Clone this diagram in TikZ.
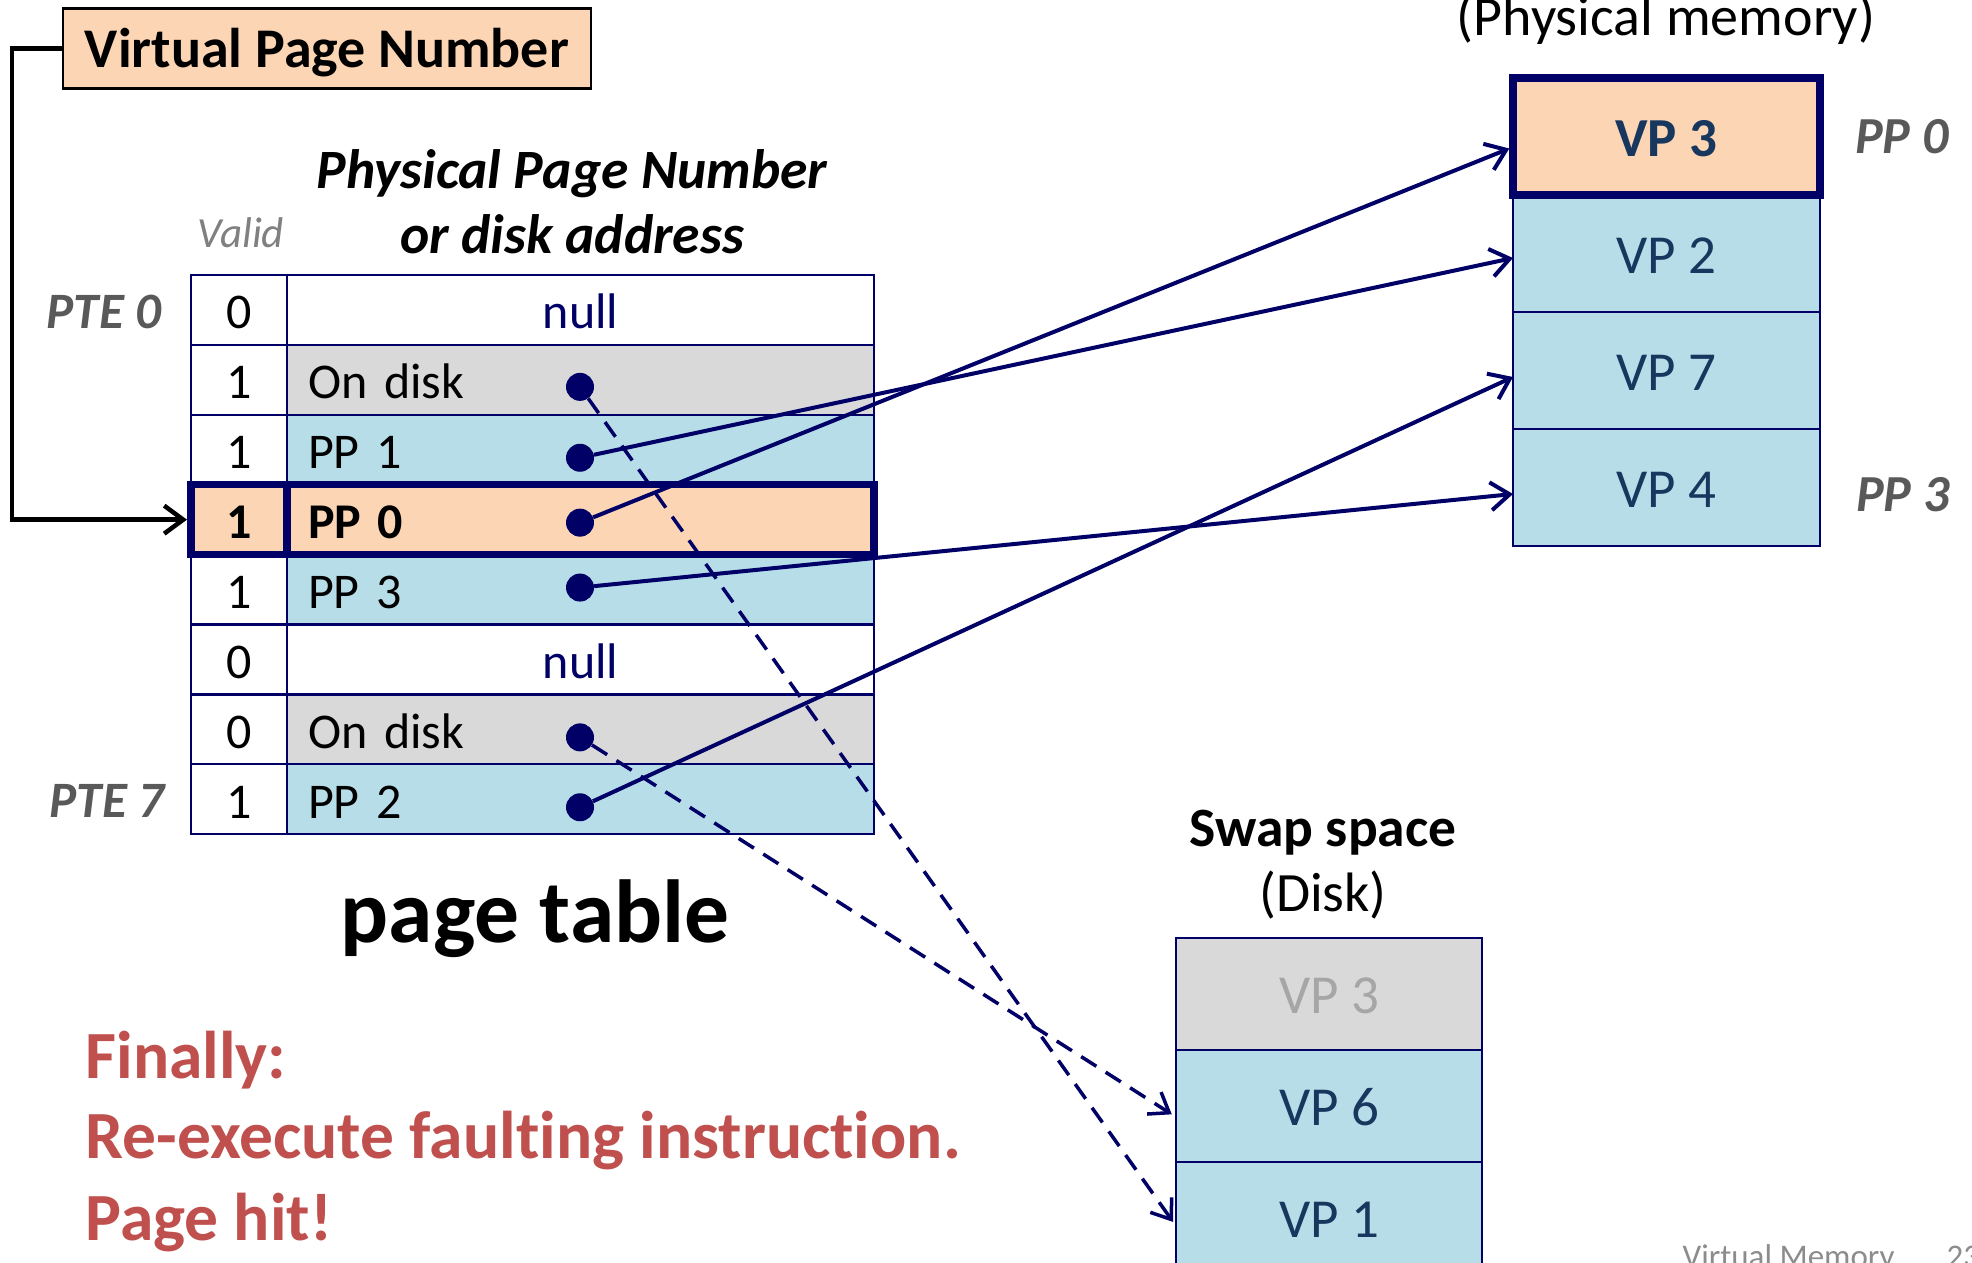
\documentclass[tikz,border=0pt]{standalone}
\usepackage{fontspec}
\setmainfont{Carlito}[Ligatures=NoCommon]
\usetikzlibrary{arrows.meta}

\definecolor{navy}{RGB}{0,0,102}
\definecolor{cellblue}{RGB}{183,221,232}
\definecolor{cellgray}{RGB}{217,217,217}
\definecolor{peach}{RGB}{252,213,181}
\definecolor{vptext}{RGB}{23,55,94}
\definecolor{labelgray}{RGB}{89,89,89}
\definecolor{validgray}{RGB}{128,128,128}
\definecolor{alertred}{RGB}{192,80,77}
\definecolor{footgray}{RGB}{140,140,140}
\definecolor{fadedtext}{RGB}{166,166,166}

\tikzset{
  tbl/.style={draw=navy, line width=2.2pt, inner sep=0pt, outer sep=0pt},
  validcell/.style={tbl, fill=white, minimum width=96pt, minimum height=69.9pt,
    text height=38pt, text depth=0pt, font=\fontsize{50}{60}\selectfont},
  entrycell/.style={tbl, minimum height=69.9pt, text width=545pt, inner xsep=21pt,
    text height=38pt, text depth=0pt, font=\fontsize{50}{60}\selectfont},
  pmcell/.style={tbl, fill=cellblue, minimum width=307pt, minimum height=117pt,
    text height=40pt, text depth=0pt, text=vptext, font=\fontsize{55}{66}\selectfont},
  swcell/.style={tbl, fill=cellblue, minimum width=306pt, minimum height=112pt,
    text height=38pt, text depth=0pt, text=vptext, font=\fontsize{55}{66}\selectfont},
  highlight/.style={draw=navy, line width=7.5pt},
  dot/.style={circle, fill=navy, inner sep=0pt, minimum size=28pt},
  link/.style={draw=navy, line width=4pt, -{Straight Barb[length=19pt,width=28pt]}},
  disklink/.style={draw=navy, line width=3.5pt, dash pattern=on 18pt off 11pt,
    -{Straight Barb[length=18pt,width=26pt]}},
  sidelabel/.style={anchor=base, text=labelgray, font=\bfseries\itshape\fontsize{52}{62}\selectfont},
  heading/.style={anchor=base, font=\bfseries\fontsize{55.5}{67}\selectfont},
  note/.style={anchor=base west, text=alertred, font=\bfseries\fontsize{67.5}{80}\selectfont},
  footer/.style={anchor=base west, text=footgray, font=\fontsize{33}{40}\selectfont}
}

\begin{document}
\begin{tikzpicture}[x=1pt, y=-1pt]
\useasboundingbox[fill=white] (0,0) rectangle (1972,1262);

% virtual page number register
\node[draw=black, line width=2.5pt, fill=peach, minimum width=528pt, minimum height=80pt,
      text height=37pt, text depth=0pt, inner sep=0pt,
      font=\bfseries\fontsize{56}{67}\selectfont] (vpn) at (327,48.5) {Virtual Page Number};

% column headings
\node[anchor=base, font=\bfseries\itshape\fontsize{55.5}{67}\selectfont] (ppnA) at (572,188) {Physical Page Number};
\node[anchor=base, font=\bfseries\itshape\fontsize{55.5}{67}\selectfont] (ppnB) at (572,253) {or disk address};
\node[anchor=base, text=validgray, font=\itshape\fontsize{43}{52}\selectfont] (valid) at (241,247) {Valid};
\node[sidelabel, font=\bfseries\itshape\fontsize{51}{61}\selectfont] (pte0) at (104,328) {PTE 0};
\node[sidelabel, font=\bfseries\itshape\fontsize{51}{61}\selectfont] (pte7) at (107,817) {PTE 7};

% page table rows
\foreach \i/\v/\fc/\tc/\txt/\al in {
    1/0/white/navy/null/center,
    2/1/cellgray/black/On disk/left,
    3/1/cellblue/black/PP 1/left,
    5/1/cellblue/black/PP 3/left,
    6/0/white/navy/null/center,
    7/0/cellgray/black/On disk/left,
    8/1/cellblue/black/PP 2/left} {
  \node[validcell] (v\i) at (239, {275+69.9*(\i-0.5)}) {\v};
  \node[entrycell, fill=\fc, text=\tc, align=\al] (e\i) at (580.5, {275+69.9*(\i-0.5)}) {\txt};
}
% the selected entry
\node[validcell, fill=peach, font=\bfseries\fontsize{50}{60}\selectfont] (v4) at (239, {275+69.9*3.5}) {1};
\node[entrycell, fill=peach, align=left, font=\bfseries\fontsize{50}{60}\selectfont] (e4) at (580.5, {275+69.9*3.5}) {PP 0};
\draw[highlight] (v4.north west) rectangle (e4.south east);
\draw[highlight] (v4.north east) -- (v4.south east);

\node[anchor=base, font=\bfseries\fontsize{89.5}{100}\selectfont] (ptcap) at (535,942) {page table};

% physical memory (DRAM)
\node[anchor=base, font=\fontsize{56}{67}\selectfont] (pmcap) at (1666,35) {(Physical memory)};
\node[pmcell, fill=peach, font=\bfseries\fontsize{55}{66}\selectfont] (vp3) at (1666.5,136.5) {VP 3};
\node[pmcell] (vp2) at (1666.5,253.5) {VP 2};
\node[pmcell] (vp7) at (1666.5,370.5) {VP 7};
\node[pmcell] (vp4) at (1666.5,487.5) {VP 4};
\draw[highlight] (vp3.north west) rectangle (vp3.south east);
\node[sidelabel] (pp0) at (1902,153) {PP 0};
\node[sidelabel] (pp3) at (1903,511) {PP 3};

% swap space (disk)
\node[heading] (swcap) at (1323,846) {Swap space};
\node[anchor=base, font=\fontsize{55.5}{67}\selectfont] (diskcap) at (1323,911) {(Disk)};
\node[swcell, fill=cellgray, text=fadedtext] (sw3) at (1329,994) {VP 3};
\node[swcell] (sw6) at (1329,1106) {VP 6};
\node[swcell] (sw1) at (1329,1218) {VP 1};

% index into the page table
\draw[line width=4.5pt, -{Straight Barb[length=19pt,width=28pt]}, shorten >=4pt]
  (vpn.west) -- ++(-50,0) |- (v4.west);

% pointer dots
\foreach \i/\dy in {2/7,3/8,4/3,5/-2,7/8,8/8}
  \node[dot] (d\i) at (580, {275+69.9*(\i-0.5)+\dy}) {};

% resident pages
\draw[link] (d3) -- ([yshift=-4.5pt]vp2.west);
\draw[link, shorten >=4pt] (d4) -- ([yshift=-10.5pt]vp3.west);
\draw[link] (d5) -- ([yshift=-6.5pt]vp4.west);
\draw[link] (d8) -- ([yshift=-6.5pt]vp7.west);

% pages on disk
\draw[disklink, shorten >=5pt] (d2) -- ([yshift=-8pt]sw1.west);
\draw[disklink, shorten >=5pt] (d7) -- ([yshift=-11pt]sw6.west);

% outcome
\node[note] (n1) at (82,1078) {Finally:};
\node[note] (n2) at (82,1158) {Re-execute faulting instruction.};
\node[note] (n3) at (82,1240) {Page hit!};

% slide footer
\node[footer] (foot) at (1679,1267) {Virtual Memory};
\node[footer] (pgno) at (1943,1267) {23};
\end{tikzpicture}
\end{document}
